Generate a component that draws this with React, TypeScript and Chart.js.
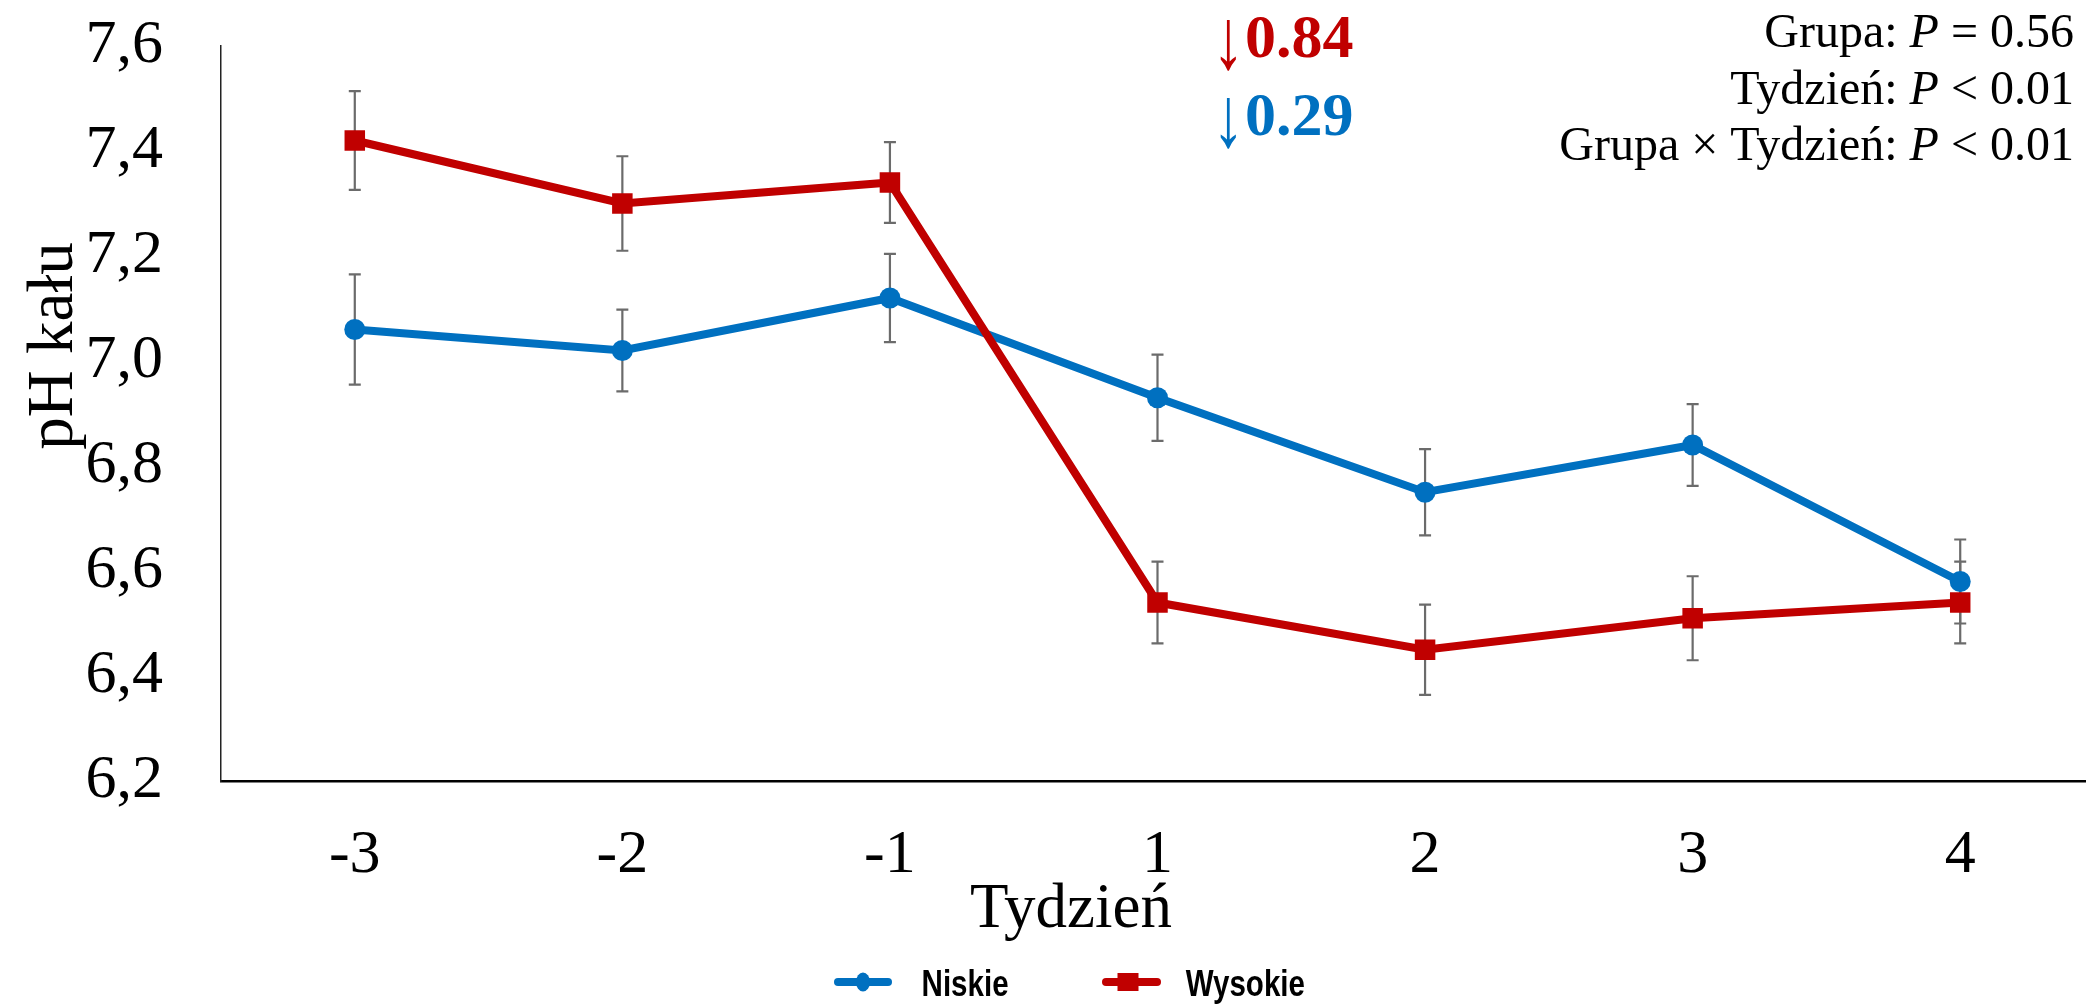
import React, { useEffect, useRef } from 'react';
import { Chart, registerables } from 'chart.js';

Chart.register(...registerables);

// ---- data ----
const weeks = ['-3', '-2', '-1', '1', '2', '3', '4'];
const niskieMean = [7.06, 7.02, 7.12, 6.93, 6.75, 6.84, 6.58];
const niskieErr = [0.105, 0.078, 0.084, 0.082, 0.082, 0.078, 0.08];
const wysokieMean = [7.42, 7.3, 7.34, 6.54, 6.45, 6.51, 6.54];
const wysokieErr = [0.094, 0.09, 0.077, 0.078, 0.086, 0.08, 0.078];
const seriesNames = ['Niskie', 'Wysokie'];
const yMin = 6.2;
const yMax = 7.6;
const yStep = 0.2;
const xTitle = 'Tydzień';
const yTitle = 'pH kału';
const dropRed = '0.84';
const dropBlue = '0.29';
const statLines = [
  [{ t: 'Grupa: ' }, { t: 'P', i: true }, { t: ' = 0.56' }],
  [{ t: 'Tydzień: ' }, { t: 'P', i: true }, { t: ' < 0.01' }],
  [{ t: 'Grupa × Tydzień: ' }, { t: 'P', i: true }, { t: ' < 0.01' }],
];

const BLUE = '#0070C0';
const RED = '#C00000';
const SERIF = '"Liberation Serif", "Times New Roman", serif';
const SANS = '"Liberation Sans", Arial, sans-serif';

const errorBars = {
  id: 'errorBars',
  beforeDatasetsDraw(chart: any) {
    const { ctx } = chart;
    const y = chart.scales.y;
    ctx.save();
    ctx.strokeStyle = '#6b6b6b';
    ctx.lineWidth = 2.2;
    chart.data.datasets.forEach((ds: any, i: number) => {
      const meta = chart.getDatasetMeta(i);
      meta.data.forEach((pt: any, j: number) => {
        const v = ds.data[j];
        const e = ds.errors[j];
        const top = y.getPixelForValue(v + e);
        const bot = y.getPixelForValue(v - e);
        ctx.beginPath();
        ctx.moveTo(pt.x, top);
        ctx.lineTo(pt.x, bot);
        ctx.moveTo(pt.x - 6, top);
        ctx.lineTo(pt.x + 6, top);
        ctx.moveTo(pt.x - 6, bot);
        ctx.lineTo(pt.x + 6, bot);
        ctx.stroke();
      });
    });
    ctx.restore();
  },
};

function drawArrow(ctx: any, color: string, x: number, base: number) {
  ctx.save();
  ctx.fillStyle = color;
  ctx.translate(x, base);
  ctx.scale(0.75, 1);
  ctx.font = `86px ${SERIF}`;
  ctx.textAlign = 'left';
  ctx.textBaseline = 'alphabetic';
  ctx.fillText('↓', 0, 0);
  ctx.restore();
}

const decorations = {
  id: 'decorations',
  afterDraw(chart: any) {
    const { ctx } = chart;
    ctx.save();
    ctx.fillStyle = '#000';

    // x title
    ctx.font = `63px ${SERIF}`;
    ctx.textAlign = 'center';
    ctx.textBaseline = 'alphabetic';
    ctx.fillText(xTitle, 1071, 927);

    // y title
    ctx.save();
    ctx.translate(72, 346);
    ctx.rotate(-Math.PI / 2);
    ctx.font = `65px ${SERIF}`;
    ctx.fillText(yTitle, 0, 0);
    ctx.restore();

    // drop annotations
    ctx.textAlign = 'left';
    drawArrow(ctx, RED, 1212, 68);
    ctx.fillStyle = RED;
    ctx.font = `bold 62px ${SERIF}`;
    ctx.fillText(dropRed, 1245, 57);
    drawArrow(ctx, BLUE, 1212, 146);
    ctx.fillStyle = BLUE;
    ctx.font = `bold 62px ${SERIF}`;
    ctx.fillText(dropBlue, 1245, 135);

    // stats, right aligned
    ctx.fillStyle = '#000';
    const baselines = [47, 104, 160];
    statLines.forEach((parts: any[], k: number) => {
      let total = 0;
      const widths = parts.map((p) => {
        ctx.font = `${p.i ? 'italic ' : ''}48px ${SERIF}`;
        const w = ctx.measureText(p.t).width;
        total += w;
        return w;
      });
      let x = 2074 - total;
      parts.forEach((p, idx) => {
        ctx.font = `${p.i ? 'italic ' : ''}48px ${SERIF}`;
        ctx.fillText(p.t, x, baselines[k]);
        x += widths[idx];
      });
    });

    // legend
    const ly = 982;
    ctx.lineCap = 'round';
    ctx.lineWidth = 8;
    ctx.strokeStyle = BLUE;
    ctx.beginPath();
    ctx.moveTo(838, ly);
    ctx.lineTo(888, ly);
    ctx.stroke();
    ctx.fillStyle = BLUE;
    ctx.beginPath();
    ctx.ellipse(863, ly, 7, 9.5, 0, 0, Math.PI * 2);
    ctx.fill();

    ctx.strokeStyle = RED;
    ctx.beginPath();
    ctx.moveTo(1106, ly);
    ctx.lineTo(1157, ly);
    ctx.stroke();
    ctx.fillStyle = RED;
    ctx.fillRect(1117.5, ly - 9, 21, 18);

    ctx.fillStyle = '#000';
    ctx.font = `bold 36px ${SANS}`;
    ctx.textBaseline = 'alphabetic';
    [[seriesNames[0], 921.6], [seriesNames[1], 1185.7]].forEach(([t, x]: any) => {
      ctx.save();
      ctx.translate(x, 996);
      ctx.scale(0.82, 1);
      ctx.fillText(t, 0, 0);
      ctx.restore();
    });

    ctx.restore();
  },
};

export default function App() {
  const ref = useRef<HTMLCanvasElement | null>(null);

  useEffect(() => {
    document.body.style.margin = '0';
    document.body.style.overflow = 'hidden';
    const canvas = ref.current;
    if (!canvas) return;
    const chart = new Chart(canvas, {
      type: 'line',
      data: {
        labels: weeks,
        datasets: [
          {
            label: seriesNames[0],
            data: niskieMean,
            errors: niskieErr,
            borderColor: BLUE,
            backgroundColor: BLUE,
            borderWidth: 8,
            pointStyle: 'circle',
            pointRadius: 10.5,
            pointBorderWidth: 0,
            pointBackgroundColor: BLUE,
            tension: 0,
            order: 2,
          } as any,
          {
            label: seriesNames[1],
            data: wysokieMean,
            errors: wysokieErr,
            borderColor: RED,
            backgroundColor: RED,
            borderWidth: 8,
            pointStyle: 'rect',
            pointRadius: 14.5,
            pointBorderWidth: 0,
            pointBackgroundColor: RED,
            tension: 0,
            order: 1,
          } as any,
        ],
      },
      options: {
        responsive: false,
        animation: false,
        events: [],
        layout: { autoPadding: false, padding: { left: 0, right: 0, top: 46, bottom: 0 } },
        plugins: {
          legend: { display: false },
          tooltip: { enabled: false },
        },
        scales: {
          x: {
            type: 'category',
            offset: true,
            grid: { display: false, drawTicks: true, tickLength: 38 },
            border: { display: true, color: '#000', width: 2.5 },
            ticks: {
              color: '#000',
              font: { family: SERIF, size: 62 },
              padding: 0,
              maxRotation: 0,
            },
            afterFit: (s: any) => {
              s.height = 223;
            },
          },
          y: {
            type: 'linear',
            min: yMin,
            max: yMax,
            grid: { display: false, drawTicks: true, tickLength: 58 },
            border: { display: true, color: '#222', width: 1.5 },
            ticks: {
              stepSize: yStep,
              color: '#000',
              font: { family: SERIF, size: 62 },
              padding: 0,
              callback: (v: any) => Number(v).toFixed(1).replace('.', ','),
            },
            afterFit: (s: any) => {
              s.width = 221;
            },
          },
        },
      } as any,
      plugins: [errorBars, decorations],
    });
    return () => chart.destroy();
  }, []);

  return (
    <div style={{ width: 2086, height: 1004, background: '#fff', overflow: 'hidden' }}>
      <canvas ref={ref} width={2094} height={1004} style={{ display: 'block' }} />
    </div>
  );
}
